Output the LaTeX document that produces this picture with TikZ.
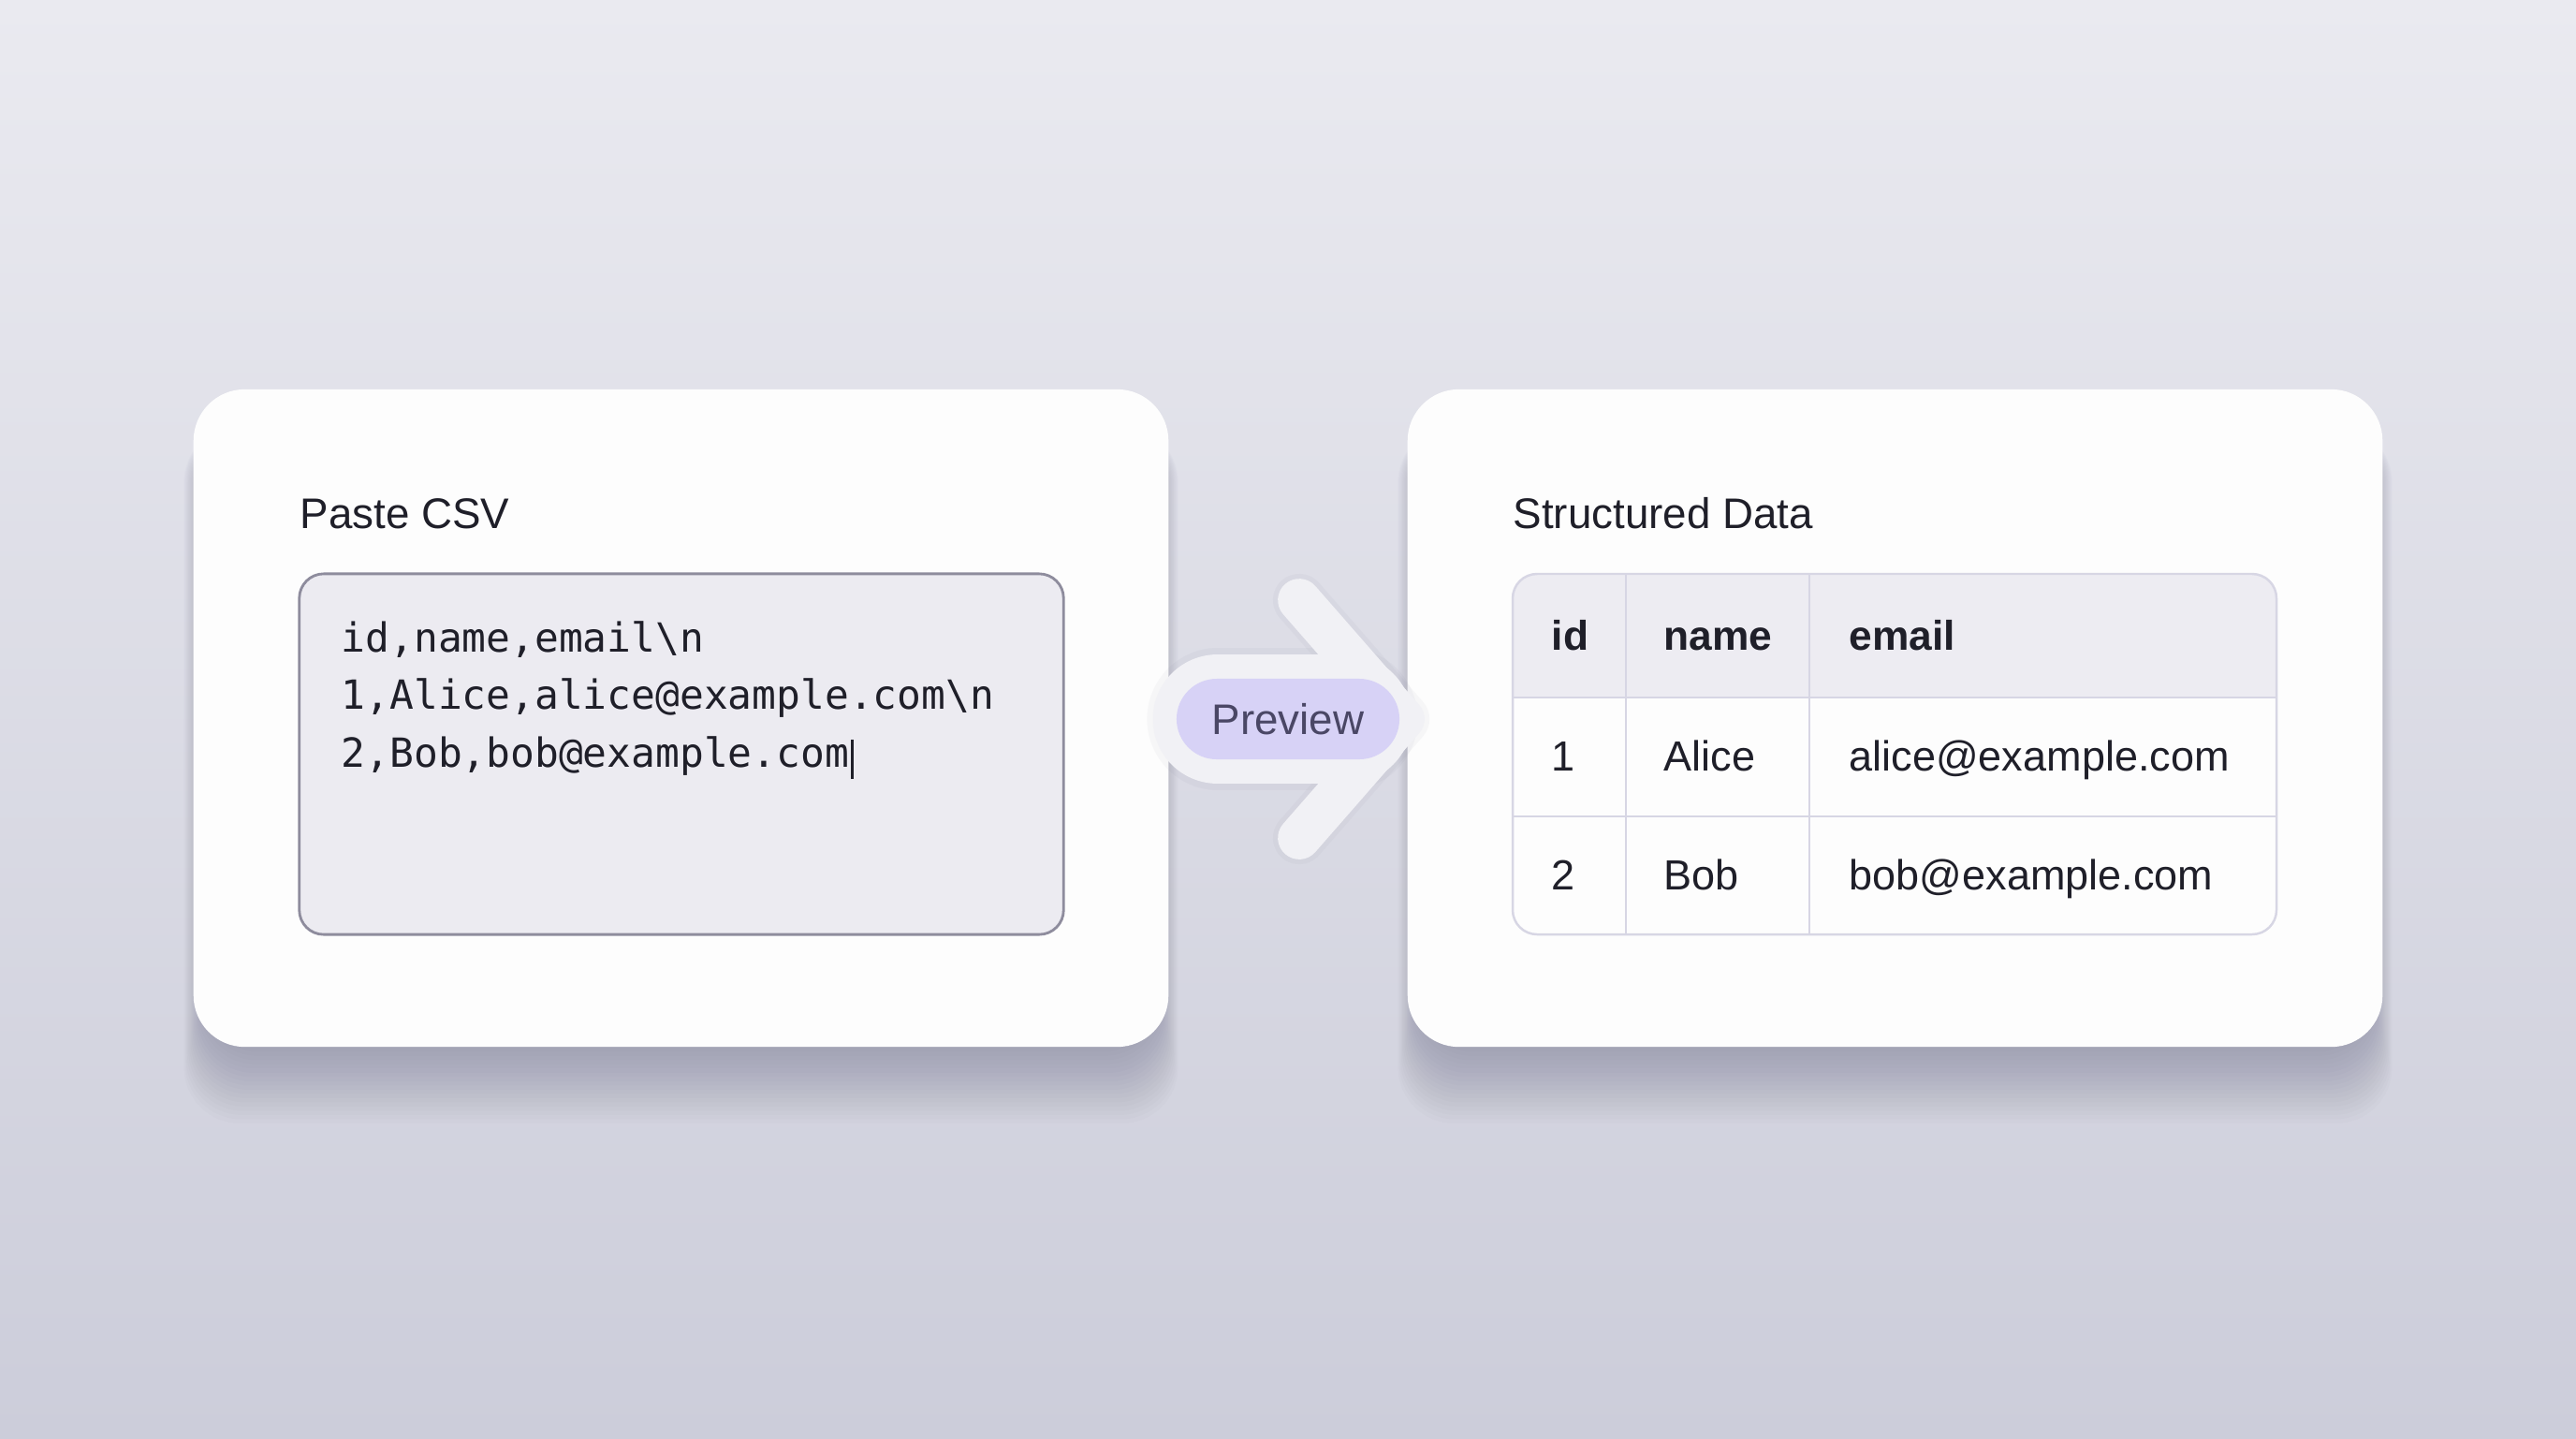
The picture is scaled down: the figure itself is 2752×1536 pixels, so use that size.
\documentclass[tikz,border=0pt]{standalone}
\usepackage{fontspec}
\setmainfont{Liberation Sans}
\setmonofont{DejaVu Sans Mono}
\usetikzlibrary{positioning, calc, backgrounds}

\definecolor{bgtop}{HTML}{EAEAF0}
\definecolor{bgbot}{HTML}{CCCDDA}
\definecolor{cardfill}{HTML}{FDFDFD}
\definecolor{boxfill}{HTML}{ECEBF1}
\definecolor{boxline}{HTML}{8E8C9D}
\definecolor{hdrfill}{HTML}{EDECF2}
\definecolor{gridline}{HTML}{D7D6E4}
\definecolor{inkdark}{HTML}{1F1F29}
\definecolor{pillfill}{HTML}{D7D2F6}
\definecolor{pilltext}{HTML}{4A4765}
\definecolor{arrowfill}{HTML}{F1F1F5}
\definecolor{shadowc}{HTML}{5A5A78}

\begin{document}
\begin{tikzpicture}[x=0.01cm, y=-0.01cm,
    card/.style={fill=cardfill, rounded corners=0.55cm, inner sep=0pt,
      minimum width=10.41cm, minimum height=7.02cm},
    title/.style={anchor=base west, inner sep=0pt, text=inkdark,
      font=\fontsize{13}{15}\selectfont},
    csvline/.style={anchor=base west, inner sep=0pt, text=inkdark,
      font=\ttfamily\fontsize{12.2}{14}\selectfont},
    cell/.style={anchor=base west, inner sep=0pt, text=inkdark,
      font=\fontsize{12.8}{15}\selectfont},
    headcell/.style={cell, font=\bfseries\fontsize{12.6}{15}\selectfont},
    arrowbody/.style={draw=arrowfill, line cap=round, line join=round},
    pill/.style={fill=pillfill, text=pilltext, rounded corners=0.43cm,
      minimum width=2.38cm, minimum height=0.86cm, inner sep=0pt,
      font=\fontsize{13}{15}\selectfont}]
    \useasboundingbox (0,0) rectangle (2752,1536);

    \node[card] (csvcard) at (727.5,767) {};
    \node[card] (tablecard) at (2024.5,767) {};

    % background and soft card shadows
    \begin{scope}[on background layer]
        \shade[top color=bgtop, bottom color=bgbot] (0,0) rectangle (2752,1536);
        \foreach \cardname in {csvcard, tablecard}
            \foreach \k in {1,...,18}
                \fill[shadowc, opacity=0.022, rounded corners=0.6cm]
                    ($(\cardname.north west)+(12-1.2*\k,40)$) rectangle
                    ($(\cardname.south east)+(-12+1.2*\k,4.5*\k)$);
    \end{scope}

    % left card: csv input
    \node[title] (csvtitle) at (320,564) {Paste CSV};
    \node[draw=boxline, line width=0.8pt, fill=boxfill, rounded corners=0.26cm,
        minimum width=8.16cm, minimum height=3.85cm, inner sep=0pt] (csvbox) at (728,805.5) {};
    \node[csvline] (l1) at (364,696) {id,name,email\textbackslash n};
    \node[csvline] (l2) at (364,757) {1,Alice,alice@example.com\textbackslash n};
    \node[csvline] (l3) at (364,819) {2,Bob,bob@example.com};
    \draw[inkdark, line width=0.9pt] ($(l3.base east)+(3,13)$) -- ++(0,-42);

    % right card: table
    \node[title] (tabletitle) at (1616,564) {Structured Data};
    \coordinate (tnw) at (1616,613);
    \coordinate (tse) at (2432,998);
    \begin{scope}
        \clip[rounded corners=0.26cm] (tnw) rectangle (tse);
        \fill[cardfill] (tnw) rectangle (tse);
        \fill[hdrfill] (tnw) rectangle (2432,745);
    \end{scope}
    \draw[gridline, line width=0.7pt, rounded corners=0.26cm] (tnw) rectangle (tse);
    \draw[gridline, line width=0.7pt] (1616,745) -- (2432,745) (1616,872) -- (2432,872)
        (1737,613) -- (1737,998) (1933,613) -- (1933,998);

    \node[headcell] (hid) at (1657,694) {id};
    \node[headcell] (hname) at (1777,694) {name};
    \node[headcell] (hemail) at (1975,694) {email};
    \node[cell] (id1) at (1657,823) {1};
    \node[cell] (name1) at (1777,823) {Alice};
    \node[cell] (email1) at (1975,823) {alice@example.com};
    \node[cell] (id2) at (1657,950) {2};
    \node[cell] (name2) at (1777,950) {Bob};
    \node[cell] (email2) at (1975,950) {bob@example.com};

    % arrow between the cards
    \coordinate (shaftL) at ($(csvcard.east)+(52,1)$);
    \coordinate (shaftR) at ($(tablecard.west)+(-64,1)$);
    \coordinate (tip) at ($(tablecard.west)+(-4,1)$);
    \coordinate (armT) at ($(tablecard.west)+(-115,-126)$);
    \coordinate (armB) at ($(tablecard.west)+(-115,128)$);
    \begin{scope}[shadowc, opacity=0.04, line cap=round, line join=round, yshift=-0.06cm]
        \draw[line width=43pt] (shaftL) -- (shaftR);
        \draw[line width=16pt] (armT) -- (tip) -- (armB);
    \end{scope}
    \draw[arrowbody, line width=39.5pt] (shaftL) -- (shaftR);
    \draw[arrowbody, line width=13pt] (armT) -- (tip) -- (armB);
    \node[pill] (preview) at (1376,768) {Preview};
\end{tikzpicture}
\end{document}
